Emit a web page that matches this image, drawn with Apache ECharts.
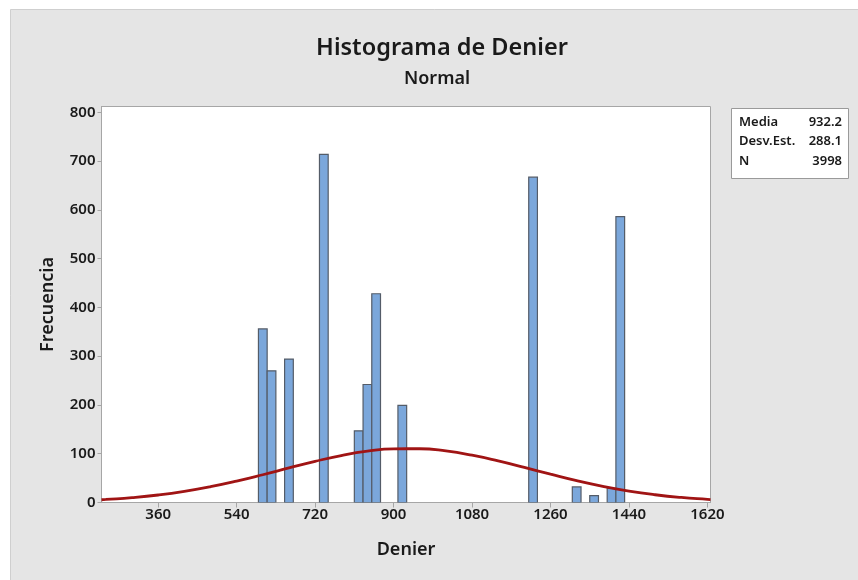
<!DOCTYPE html>
<html>
<head>
<meta charset="utf-8">
<script src="https://cdn.jsdelivr.net/npm/echarts@6/dist/echarts.min.js"></script>
<style>html,body{margin:0;padding:0;background:#fff}#c{width:858px;height:580px}</style>
</head>
<body>
<div id="c"></div>
<script>
// ---- data ----
const binWidth = 20;
const binCenters = [600, 620, 660, 740, 820, 840, 860, 920, 1220, 1320, 1360, 1400, 1420];
const frequencies = [356, 270, 294, 714, 147, 242, 428, 199, 667, 32, 14, 29, 586];
const curveX = [230, 240, 300, 360, 420, 480, 540, 600, 660, 720, 780, 840, 900, 960, 1020, 1080, 1140, 1200, 1260, 1320, 1380, 1440, 1500, 1560, 1620, 1627];
const curveY = [5.6, 6.2, 10.0, 15.4, 22.8, 32.3, 43.8, 56.9, 70.8, 84.4, 96.3, 105.2, 110.0, 110.2, 105.7, 97.0, 85.3, 71.9, 58.0, 44.7, 33.1, 23.4, 15.9, 10.3, 6.4, 6.0];
const xTicks = [360, 540, 720, 900, 1080, 1260, 1440, 1620];
const yTicks = [0, 100, 200, 300, 400, 500, 600, 700, 800];
const statLabels = ['Media', 'Desv.Est.', 'N'];
const statValues = ['932.2', '288.1', '3998'];
const titleText = 'Histograma de Denier';
const subtitleText = 'Normal';
const xName = 'Denier';
const yName = 'Frecuencia';

const FONT = '"Noto Sans", "Open Sans", sans-serif';
const TXT = '#1a1a1a';

const histData = binCenters.map((c, i) => [c, frequencies[i]]);
const curveData = curveX.map((x, i) => [x, curveY[i]]);

const chart = echarts.init(document.getElementById('c'), null, {renderer: 'canvas'});

const statGraphics = [];
statLabels.forEach((l, i) => {
  statGraphics.push({type: 'text', left: 739, top: 115.5 + i * 19.5, z: 10,
    style: {text: l, font: '600 13px ' + FONT, fill: TXT}});
  statGraphics.push({type: 'text', right: 16, top: 115.5 + i * 19.5, z: 10,
    style: {text: statValues[i], font: '600 13px ' + FONT, fill: TXT, textAlign: 'right'}});
});

const option = {
  backgroundColor: '#ffffff',
  animation: false,
  textStyle: {fontFamily: FONT},
  title: [
    {text: titleText, left: 437, top: 31, textAlign: 'center',
      textStyle: {fontSize: 23.5, fontWeight: 600, color: TXT, fontFamily: FONT}},
    {text: subtitleText, left: 432, top: 65, textAlign: 'center',
      textStyle: {fontSize: 18, fontWeight: 600, color: TXT, fontFamily: FONT}}
  ],
  graphic: [
    {type: 'rect', z: -10, shape: {x: 10.5, y: 9.5, width: 860, height: 580},
      style: {fill: '#e5e5e5', stroke: '#cfcfcf', lineWidth: 1}},
    {type: 'rect', z: 5, shape: {x: 731.5, y: 108.5, width: 117, height: 70},
      style: {fill: '#ffffff', stroke: '#9a9a9a', lineWidth: 1}}
  ].concat(statGraphics),
  grid: {left: 101.5, top: 106.5, width: 609, height: 396, show: true,
    backgroundColor: '#ffffff', borderColor: '#a6a6a6', borderWidth: 1},
  xAxis: {
    type: 'value', min: 230, max: 1627,
    name: xName, nameLocation: 'middle', nameGap: 38,
    nameTextStyle: {fontSize: 18, fontWeight: 600, color: TXT, fontFamily: FONT},
    axisLine: {show: true, lineStyle: {color: '#a6a6a6'}},
    axisTick: {show: true, length: 5, lineStyle: {color: '#a6a6a6'}, customValues: xTicks},
    axisLabel: {customValues: xTicks, fontSize: 15, fontWeight: 600, color: TXT, margin: 5, fontFamily: FONT,
      formatter: function (v) { return String(v); }},
    splitLine: {show: false}
  },
  yAxis: {
    type: 'value', min: 0, max: 812,
    name: yName, nameLocation: 'middle', nameGap: 45, nameRotate: 90,
    nameTextStyle: {fontSize: 18, fontWeight: 600, color: TXT, fontFamily: FONT},
    axisLine: {show: true, lineStyle: {color: '#a6a6a6'}},
    axisTick: {show: true, length: 4, lineStyle: {color: '#a6a6a6'}, customValues: yTicks},
    axisLabel: {customValues: yTicks, fontSize: 15, fontWeight: 600, color: TXT, margin: 6, fontFamily: FONT,
      formatter: function (v) { return String(v); }},
    splitLine: {show: false}
  },
  series: [
    {
      type: 'custom',
      data: histData,
      clip: true,
      z: 2,
      renderItem: function (params, api) {
        const c = api.value(0), v = api.value(1);
        const p0 = api.coord([c - binWidth / 2, v]);
        const p1 = api.coord([c + binWidth / 2, 0]);
        return {
          type: 'rect',
          shape: {x: p0[0], y: p0[1], width: p1[0] - p0[0], height: p1[1] - p0[1]},
          style: {fill: '#7ba7db', stroke: '#545c68', lineWidth: 1.2}
        };
      }
    },
    {
      type: 'line',
      data: curveData,
      smooth: true,
      showSymbol: false,
      clip: true,
      z: 3,
      lineStyle: {color: '#a01414', width: 2.8}
    }
  ]
};
chart.setOption(option);
</script>
</body>
</html>
